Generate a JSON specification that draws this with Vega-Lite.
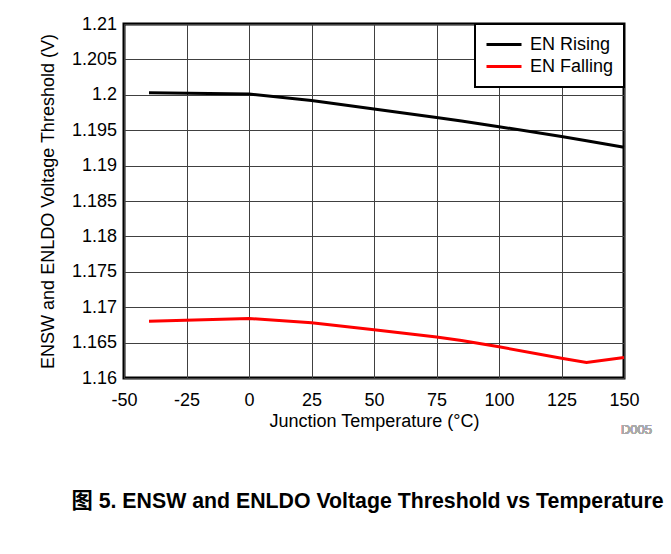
{
  "$schema": "https://vega.github.io/schema/vega-lite/v6.json",
  "width": 500,
  "height": 354,
  "autosize": {"type": "none"},
  "padding": {"left": 124, "top": 24, "right": 47, "bottom": 176},
  "background": "white",
  "title": {
    "text": "图 5. ENSW and ENLDO Voltage Threshold vs Temperature",
    "orient": "bottom",
    "anchor": "start",
    "frame": "bounds",
    "offset": 54,
    "dx": 32,
    "font": "Liberation Sans, Noto Sans CJK SC",
    "fontSize": 21.3,
    "fontWeight": "bold",
    "color": "black"
  },
  "config": {
    "view": {"stroke": "black", "strokeWidth": 3},
    "font": "Liberation Sans",
    "axis": {
      "labelFont": "Liberation Sans",
      "titleFont": "Liberation Sans",
      "labelFontSize": 18,
      "titleFontSize": 18,
      "labelColor": "black",
      "titleColor": "black",
      "titleFontWeight": "normal",
      "domain": false,
      "ticks": false,
      "tickSize": 0,
      "labelOverlap": false,
      "labelFlush": false,
      "tickCount": 20,
      "gridColor": "#404040",
      "gridWidth": 1,
      "gridOpacity": 1
    },
    "legend": {
      "labelFont": "Liberation Sans",
      "labelFontSize": 18,
      "labelColor": "black",
      "strokeColor": "black",
      "strokeWidth": 2,
      "fillColor": "white"
    }
  },
  "data": {
    "values": [
      {"temp": -40, "v": 1.2003, "series": "EN Rising"},
      {"temp": 0, "v": 1.2001, "series": "EN Rising"},
      {"temp": 25, "v": 1.1992, "series": "EN Rising"},
      {"temp": 50, "v": 1.1980, "series": "EN Rising"},
      {"temp": 75, "v": 1.1968, "series": "EN Rising"},
      {"temp": 85, "v": 1.1963, "series": "EN Rising"},
      {"temp": 100, "v": 1.1955, "series": "EN Rising"},
      {"temp": 125, "v": 1.1941, "series": "EN Rising"},
      {"temp": 135, "v": 1.1935, "series": "EN Rising"},
      {"temp": 150, "v": 1.1926, "series": "EN Rising"},
      {"temp": -40, "v": 1.1680, "series": "EN Falling"},
      {"temp": 0, "v": 1.1684, "series": "EN Falling"},
      {"temp": 25, "v": 1.1678, "series": "EN Falling"},
      {"temp": 50, "v": 1.1668, "series": "EN Falling"},
      {"temp": 75, "v": 1.1658, "series": "EN Falling"},
      {"temp": 85, "v": 1.1653, "series": "EN Falling"},
      {"temp": 100, "v": 1.1644, "series": "EN Falling"},
      {"temp": 125, "v": 1.1628, "series": "EN Falling"},
      {"temp": 135, "v": 1.1622, "series": "EN Falling"},
      {"temp": 150, "v": 1.1629, "series": "EN Falling"}
    ]
  },
  "layer": [
    {
      "mark": {"type": "line", "strokeWidth": 3},
      "encoding": {
        "x": {
          "field": "temp",
          "type": "quantitative",
          "scale": {"domain": [-50, 150], "nice": false, "zero": false},
          "axis": {
            "title": "Junction Temperature (°C)",
            "values": [-50, -25, 0, 25, 50, 75, 100, 125, 150],
            "labelExpr": "toString(datum.value)",
            "labelPadding": 13.5,
            "titlePadding": 3
          }
        },
        "y": {
          "field": "v",
          "type": "quantitative",
          "scale": {"domain": [1.16, 1.21], "nice": false, "zero": false},
          "axis": {
            "title": "ENSW and ENLDO Voltage Threshold (V)",
            "values": [1.16, 1.165, 1.17, 1.175, 1.18, 1.185, 1.19, 1.195, 1.2, 1.205, 1.21],
            "labelExpr": "toString(datum.value)",
            "labelPadding": 7.5,
            "titlePadding": 14
          }
        },
        "color": {
          "field": "series",
          "type": "nominal",
          "scale": {"domain": ["EN Rising", "EN Falling"], "range": ["#000000", "#ff0000"]},
          "legend": {
            "title": null,
            "orient": "top-right",
            "offset": 0,
            "padding": 10,
            "symbolType": "stroke",
            "symbolSize": 1225,
            "symbolStrokeWidth": 3,
            "clipHeight": 21,
            "rowPadding": 1,
            "labelOffset": 7
          }
        }
      }
    },
    {
      "mark": {"type": "text", "text": "D005", "align": "right", "baseline": "middle", "fontSize": 13, "fontWeight": "normal", "color": "#aaaaaa", "font": "Liberation Sans"},
      "encoding": {
        "x": {"datum": 161.2, "type": "quantitative"},
        "y": {"datum": 1.1527, "type": "quantitative"}
      }
    }
  ]
}
